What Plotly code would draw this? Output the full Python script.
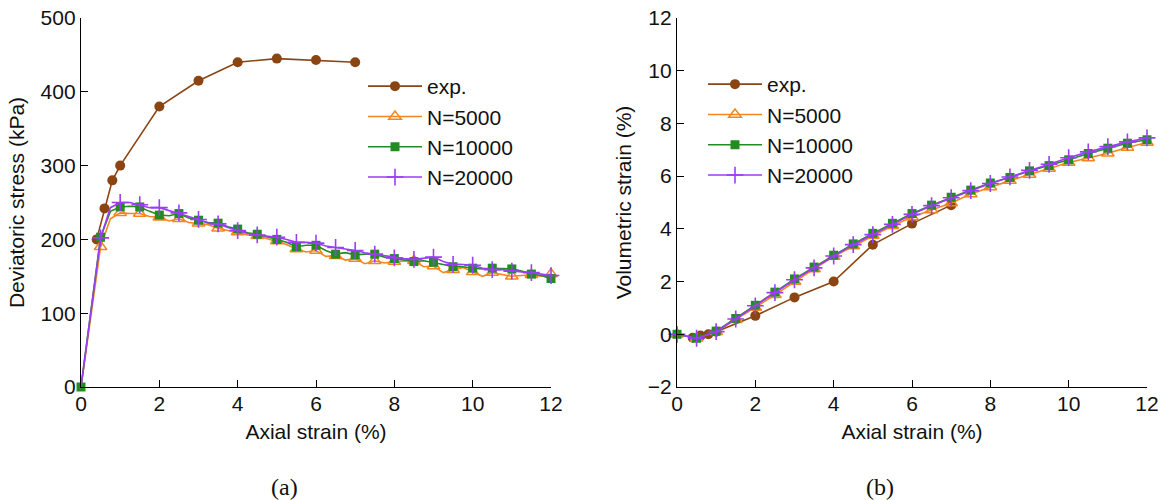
import plotly.graph_objects as go

# ---------------- data ----------------
# (a) deviatoric stress vs axial strain
exp_strain_a = [0.4, 0.6, 0.8, 1.0, 2.0, 3.0, 4.0, 5.0, 6.0, 7.0]
exp_stress = [200, 242, 280, 300, 380, 415, 440, 445, 443, 440]

sim_strain_a = [0, 0.25, 0.5, 0.75, 1, 1.25, 1.5, 1.75, 2, 2.25, 2.5, 2.75, 3, 3.25, 3.5, 3.75,
                4, 4.25, 4.5, 4.75, 5, 5.25, 5.5, 5.75, 6, 6.25, 6.5, 6.75, 7, 7.25, 7.5, 7.75,
                8, 8.25, 8.5, 8.75, 9, 9.25, 9.5, 9.75, 10, 10.25, 10.5, 10.75, 11, 11.25, 11.5, 11.75, 12]
stress_n5000 = [0, 95, 190, 228, 236, 235, 235, 231, 230, 225, 228, 223, 222, 220, 215, 212,
                210, 206, 205, 201, 198, 193, 187, 183, 185, 177, 178, 172, 174, 167, 171, 168,
                170, 170, 171, 163, 164, 155, 159, 162, 156, 150, 155, 153, 150, 151, 152, 150, 153]
stress_n10000 = [0, 100, 203, 238, 244, 245, 244, 238, 233, 232, 235, 229, 226, 223, 222, 217,
                 214, 209, 207, 204, 200, 196, 190, 192, 192, 185, 180, 182, 179, 180, 180, 176,
                 174, 173, 170, 171, 169, 166, 163, 163, 161, 160, 161, 161, 160, 157, 153, 151, 147]
stress_n20000 = [0, 100, 202, 243, 250, 250, 247, 243, 243, 239, 236, 232, 227, 222, 221, 216,
                 212, 208, 206, 205, 203, 200, 196, 196, 195, 191, 189, 188, 185, 182, 180, 178,
                 175, 174, 173, 175, 176, 170, 166, 166, 165, 161, 159, 159, 157, 156, 155, 153, 151]

# (b) volumetric strain vs axial strain
exp_strain_b = [0.4, 0.6, 0.8, 1.0, 2.0, 3.0, 4.0, 5.0, 6.0, 7.0]
exp_vol = [-0.13, -0.05, 0.0, 0.1, 0.7, 1.4, 2.0, 3.4, 4.2, 4.9]

sim_strain_b = [0, 0.5, 1, 1.5, 2, 2.5, 3, 3.5, 4, 4.5, 5, 5.5, 6, 6.5, 7, 7.5, 8, 8.5,
                9, 9.5, 10, 10.5, 11, 11.5, 12]
vol_n5000 = [0, -0.15, 0.1, 0.55, 1.02, 1.5, 2.0, 2.48, 2.95, 3.35, 3.75, 4.12, 4.45, 4.72,
             4.98, 5.32, 5.59, 5.83, 6.06, 6.29, 6.52, 6.69, 6.87, 7.09, 7.28]
vol_n10000 = [0, -0.15, 0.12, 0.6, 1.1, 1.6, 2.1, 2.55, 3.0, 3.43, 3.83, 4.21, 4.58, 4.9,
              5.2, 5.47, 5.74, 5.95, 6.2, 6.4, 6.62, 6.86, 7.06, 7.25, 7.38]
vol_n20000 = [0, -0.15, 0.1, 0.58, 1.08, 1.58, 2.07, 2.52, 2.97, 3.4, 3.78, 4.17, 4.55, 4.88,
              5.18, 5.45, 5.72, 5.97, 6.22, 6.45, 6.7, 6.92, 7.12, 7.3, 7.45]

series_names = ["exp.", "N=5000", "N=10000", "N=20000"]
x_ticks = [0, 2, 4, 6, 8, 10, 12]
y_ticks_a = [0, 100, 200, 300, 400, 500]
y_ticks_b = [-2, 0, 2, 4, 6, 8, 10, 12]

# ---------------- styles ----------------
C_EXP = "#8B4513"
C_5K = "#F5861F"
C_10K = "#228B22"
C_20K = "#9B3DF5"
LW = 1.6

styles = {
    "exp.": dict(color=C_EXP, marker=dict(symbol="circle", size=10, color=C_EXP)),
    "N=5000": dict(color=C_5K, marker=dict(symbol="triangle-up-open", size=11, color=C_5K,
                                            line=dict(color=C_5K, width=1.5))),
    "N=10000": dict(color=C_10K, marker=dict(symbol="square", size=9, color=C_10K)),
    "N=20000": dict(color=C_20K, marker=dict(symbol="cross-thin", size=12, color=C_20K,
                                             line=dict(color=C_20K, width=1.6))),
}

W, H = 1161, 500
def px_x(p):
    return p / W
def px_y(p):
    return 1 - p / H

fig = go.Figure()

# ---- panel (a) ----
fig.add_trace(go.Scatter(x=exp_strain_a, y=exp_stress, mode="lines+markers", name="exp.",
                         line=dict(color=C_EXP, width=LW), marker=styles["exp."]["marker"],
                         xaxis="x", yaxis="y", showlegend=False, cliponaxis=False))
for name, ys, start in [("N=5000", stress_n5000, 2), ("N=10000", stress_n10000, 0),
                        ("N=20000", stress_n20000, 2)]:
    st = styles[name]
    fig.add_trace(go.Scatter(x=sim_strain_a, y=ys, mode="lines", line=dict(color=st["color"], width=LW),
                             xaxis="x", yaxis="y", showlegend=False, hoverinfo="skip", cliponaxis=False))
    fig.add_trace(go.Scatter(x=sim_strain_a[start::2], y=ys[start::2], mode="markers", name=name,
                             marker=st["marker"], xaxis="x", yaxis="y", showlegend=False,
                             cliponaxis=False))

# ---- panel (b) ----
fig.add_trace(go.Scatter(x=exp_strain_b, y=exp_vol, mode="lines+markers", name="exp.",
                         line=dict(color=C_EXP, width=LW), marker=styles["exp."]["marker"],
                         xaxis="x2", yaxis="y2", showlegend=False, cliponaxis=False))
for name, ys in [("N=5000", vol_n5000), ("N=10000", vol_n10000), ("N=20000", vol_n20000)]:
    st = styles[name]
    fig.add_trace(go.Scatter(x=sim_strain_b, y=ys, mode="lines+markers", name=name,
                             line=dict(color=st["color"], width=LW), marker=st["marker"],
                             xaxis="x2", yaxis="y2", showlegend=False, cliponaxis=False))

# ---- legend entries ----
for lg, ax, ay in [("legend", "x", "y"), ("legend2", "x2", "y2")]:
    for name in series_names:
        st = styles[name]
        fig.add_trace(go.Scatter(x=[None], y=[None], mode="lines+markers", name=name,
                                 line=dict(color=st["color"], width=LW), marker=st["marker"],
                                 xaxis=ax, yaxis=ay, legend=lg, showlegend=True))

FONT = "Liberation Sans"
axis_common = dict(showline=True, linecolor="black", linewidth=1.3, mirror=False,
                   ticks="inside", ticklen=7, tickwidth=1.2, tickcolor="black",
                   showgrid=False, zeroline=False, automargin=False,
                   tickfont=dict(family=FONT, size=21, color="#111"),
                   title_font=dict(family=FONT, size=21, color="#111"))

ydom = [px_y(387), px_y(18)]
fig.update_layout(
    width=W, height=H, margin=dict(l=0, r=0, t=0, b=0, autoexpand=False),
    paper_bgcolor="white", plot_bgcolor="white",
    xaxis=dict(domain=[px_x(81), px_x(551)], range=[0, 12], tickvals=x_ticks, anchor="y",
               ticklabelstandoff=-2,
               title=dict(text="Axial strain (%)", standoff=9), **axis_common),
    yaxis=dict(domain=ydom, range=[0, 500], tickvals=y_ticks_a, anchor="x",
               title=dict(text="Deviatoric stress (kPa)", standoff=10), **axis_common),
    xaxis2=dict(domain=[px_x(677), px_x(1147)], range=[0, 12], tickvals=x_ticks, anchor="y2",
                ticklabelstandoff=-2,
                title=dict(text="Axial strain (%)", standoff=9), **axis_common),
    yaxis2=dict(domain=ydom, range=[-2, 12], tickvals=y_ticks_b, anchor="x2",
                ticktext=["\u22122", "0", "2", "4", "6", "8", "10", "12"],
                title=dict(text="Volumetric strain (%)", standoff=10), **axis_common),
    legend=dict(x=px_x(363), y=px_y(66), xanchor="left", yanchor="top", itemwidth=54,
                bgcolor="rgba(0,0,0,0)", font=dict(family=FONT, size=21, color="#111"),
                tracegroupgap=0),
    legend2=dict(x=px_x(703), y=px_y(64), xanchor="left", yanchor="top", itemwidth=54,
                 bgcolor="rgba(0,0,0,0)", font=dict(family=FONT, size=21, color="#111"),
                 tracegroupgap=0),
    annotations=[
        dict(text="(a)", x=px_x(284), y=px_y(487), xref="paper", yref="paper", showarrow=False,
             xanchor="center", yanchor="middle",
             font=dict(family="Liberation Serif", size=24, color="#111")),
        dict(text="(b)", x=px_x(880), y=px_y(487), xref="paper", yref="paper", showarrow=False,
             xanchor="center", yanchor="middle",
             font=dict(family="Liberation Serif", size=24, color="#111")),
    ],
)

fig.write_html("out.html")
